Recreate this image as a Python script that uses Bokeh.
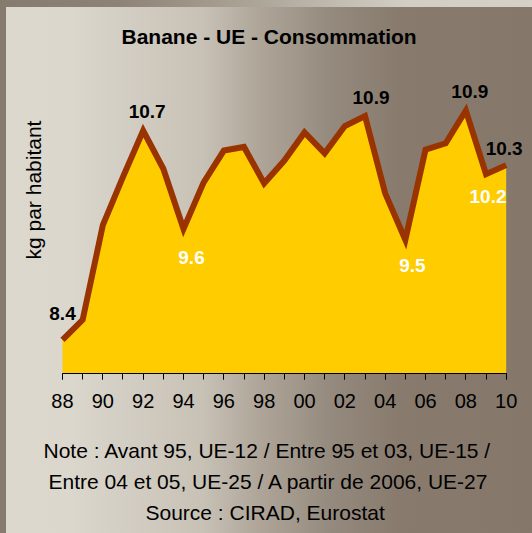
from bokeh.plotting import figure
from bokeh.models import Range1d, FixedTicker, Title, LabelSet, ColumnDataSource
from bokeh.core.properties import value
from bokeh.embed import file_html
from bokeh.resources import INLINE

# ---------------- data ----------------
years = list(range(1988, 2011))
values = [8.40, 8.62, 9.66, 10.19, 10.70, 10.28, 9.62, 10.13, 10.48, 10.52, 10.12,
          10.37, 10.68, 10.45, 10.75, 10.86, 10.01, 9.50, 10.49, 10.56, 10.92,
          10.22, 10.32]
major_ticks = list(range(1988, 2011, 2))
tick_labels = ["88", "90", "92", "94", "96", "98", "00", "02", "04", "06", "08", "10"]

label_years = [1988, 1992, 1994, 2003, 2005, 2008, 2009, 2010]
label_dx = [0, 4, 8, 6, 7, 4, 2, -2]
label_dy = [26, 19, -29, 19, -26, 19, -22, 17]
label_colors = ["black", "black", "white", "black", "white", "black", "white", "black"]

title_text = "Banane - UE - Consommation"
y_label = "kg par habitant"
notes = ["Note : Avant 95, UE-12 / Entre 95 et 03, UE-15 /",
         "Entre 04 et 05, UE-25 / A partir de 2006, UE-27",
         "Source : CIRAD, Eurostat"]
note_offsets = [-3, 2, 99]

Y_MIN, Y_MAX = 8.03, 11.47
X_START, X_END = 1987.207, 2011.106
FONT = "Liberation Sans"

# ---------------- figure ----------------
p = figure(width=532, height=533, output_backend="svg", toolbar_location=None,
           x_range=Range1d(X_START, X_END), y_range=Range1d(Y_MIN, Y_MAX),
           min_border_left=46, min_border_right=4, min_border_top=60,
           min_border_bottom=160)
p.title.visible = False
p.border_fill_alpha = 0
p.background_fill_alpha = 0
p.outline_line_color = None
p.grid.visible = False
p.yaxis.visible = False

p.styles = {"background": (
    "linear-gradient(to right, #877b6f 0%, #8e8276 22%, #b0a79b 50%, #d2cec4 76%, #d5d1c7 100%) "
    "top left / 100% 7px no-repeat, "
    "linear-gradient(to right, #877b6f, #877b6f) top left / 6px 100% no-repeat, "
    "linear-gradient(to right, #dcd8ce 0%, #dbd7cd 13%, #c8c1b6 38%, #aea598 49%, "
    "#958a7e 62%, #887b6e 75%, #85786b 100%)")}

# area + line
p.varea(x=years, y1=[Y_MIN] * len(years), y2=values, fill_color="#FFCC00")
p.line(years, values, line_color="#993300", line_width=6, line_join="miter")

# data labels
lab_vals = [values[years.index(y)] for y in label_years]
src = ColumnDataSource(dict(x=label_years, y=lab_vals,
                            text=[f"{v:.1f}" for v in lab_vals],
                            dx=label_dx, dy=label_dy, c=label_colors))
p.add_layout(LabelSet(x="x", y="y", text="text", source=src, x_offset="dx", y_offset="dy",
                      text_color="c", text_font=value(FONT), text_font_size=value("19px"),
                      text_font_style="bold", text_align="center", text_baseline="middle"))

# x axis
ax = p.xaxis[0]
ax.bounds = (years[0], years[-1])
ax.ticker = FixedTicker(ticks=major_ticks, minor_ticks=years)
ax.major_label_overrides = {t: l for t, l in zip(major_ticks, tick_labels)}
ax.axis_line_color = "black"
ax.axis_line_width = 1
ax.major_tick_line_color = "black"
ax.minor_tick_line_color = "black"
ax.major_tick_in = 0
ax.major_tick_out = 6
ax.minor_tick_in = 0
ax.minor_tick_out = 6
ax.major_label_standoff = 14
ax.major_label_text_font = FONT
ax.major_label_text_font_size = "20px"
ax.major_label_text_color = "black"

# title
p.add_layout(Title(text=title_text, align="left", offset=75, standoff=26,
                   text_font=FONT, text_font_size="21px", text_font_style="bold",
                   text_color="black"), "above")
# y label
p.add_layout(Title(text=y_label, align="left", offset=114, standoff=4,
                   text_font=FONT, text_font_size="21px", text_font_style="normal",
                   text_color="black"), "left")
# spacer between axis and notes
p.add_layout(Title(text=" ", align="left", standoff=10, text_font=FONT,
                   text_font_size="10px"), "below")
# notes
for n, off in zip(notes, note_offsets):
    p.add_layout(Title(text=n, align="left", offset=off, standoff=5.5,
                       text_font=FONT, text_font_size="21px", text_font_style="normal",
                       text_color="black"), "below")

open("out.html", "w").write(file_html(p, INLINE))
